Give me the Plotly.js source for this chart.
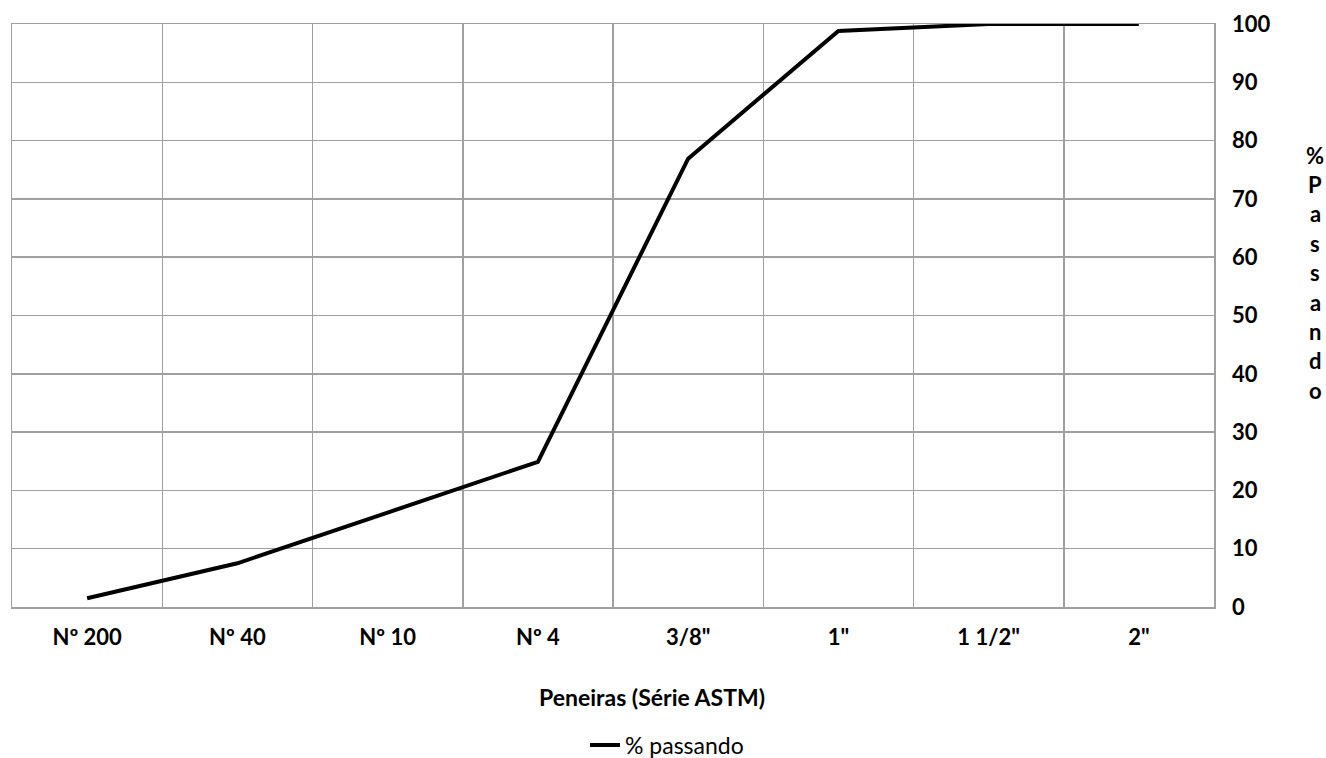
<!DOCTYPE html>
<html>
<head>
<meta charset="utf-8">
<script src="https://cdn.plot.ly/plotly-3.0.1.min.js"></script>
<style>html,body{margin:0;padding:0;background:#fff;}#chart{width:1326px;height:758px;}</style>
</head>
<body>
<div id="chart"></div>
<script>
const sieves = ["Nº 200", "Nº 40", "Nº 10", "Nº 4", "3/8\"", "1\"", "1 1/2\"", "2\""];
const passing = [1.5, 7.5, 16.2, 24.9, 76.9, 98.8, 100, 100];
const seriesName = "% passando";
const xTitle = "Peneiras (Série ASTM)";
const yTitleLetters = ["%", "P", "a", "s", "s", "a", "n", "d", "o"];
const yTicks = [0, 10, 20, 30, 40, 50, 60, 70, 80, 90, 100];

const fontFam = "Lato, 'Open Sans', sans-serif";
const fs = 22;
const plotTop = 24, plotBottom = 607, plotH = plotBottom - plotTop;
const plotLeft = 12, plotRight = 1214, plotW = plotRight - plotLeft;

const annotations = [];
annotations.push({
  text: "<b>" + xTitle + "</b>", xref: "paper", yref: "paper",
  x: (652 - plotLeft) / plotW, y: (plotBottom - 697) / plotH,
  xanchor: "center", yanchor: "middle", showarrow: false,
  font: {family: fontFam, size: fs + 1, color: "#000"}
});
yTitleLetters.forEach((ch, i) => {
  annotations.push({
    text: "<b>" + ch + "</b>", xref: "paper", yref: "paper",
    x: (1315 - plotLeft) / plotW, y: (plotBottom - (155 + i * 29.4)) / plotH,
    xanchor: "center", yanchor: "middle", showarrow: false,
    font: {family: fontFam, size: fs, color: "#000"}
  });
});

const trace = {
  x: sieves, y: passing, type: "scatter", mode: "lines", name: seriesName,
  line: {color: "#000", width: 4}
};

const layout = {
  width: 1326, height: 758,
  margin: {l: plotLeft, r: 1326 - plotRight, t: plotTop, b: 758 - plotBottom, autoexpand: false},
  paper_bgcolor: "#fff", plot_bgcolor: "#fff",
  font: {family: fontFam, color: "#000"},
  showlegend: true,
  legend: {
    orientation: "h", xref: "paper", yref: "paper",
    x: (667 - plotLeft) / plotW, xanchor: "center",
    y: (plotBottom - 745) / plotH, yanchor: "middle",
    font: {family: fontFam, size: fs + 1, color: "#000"}
  },
  xaxis: {
    type: "category", categoryorder: "array", categoryarray: sieves,
    range: [-0.5, sieves.length - 0.5],
    tickson: "boundaries", showgrid: true, gridcolor: "#a0a0a0", gridwidth: 1.5,
    showline: true, linecolor: "#a0a0a0", linewidth: 1.5, mirror: true,
    ticks: "", ticklabelstandoff: 10,
    tickfont: {family: fontFam, size: fs, color: "#000", weight: "bold"},
    zeroline: false, fixedrange: true
  },
  yaxis: {
    side: "right", range: [0, 100], tickvals: yTicks, ticktext: yTicks.map(String),
    showgrid: true, gridcolor: "#a0a0a0", gridwidth: 1.5,
    showline: true, linecolor: "#a0a0a0", linewidth: 1.5, mirror: true,
    ticks: "", ticklabelstandoff: 12,
    tickfont: {family: fontFam, size: fs, color: "#000", weight: "bold"},
    zeroline: false, fixedrange: true
  },
  annotations: annotations
};

Plotly.newPlot("chart", [trace], layout, {displayModeBar: false, staticPlot: true});
</script>
</body>
</html>
